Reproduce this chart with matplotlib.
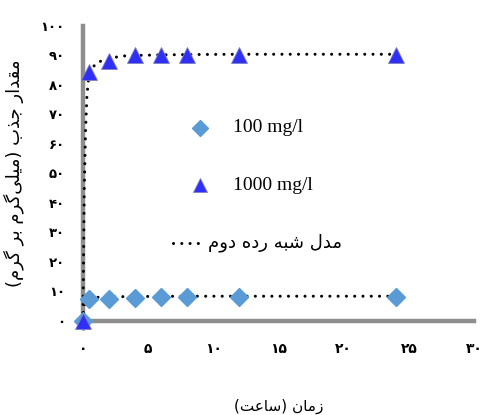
import matplotlib
matplotlib.use("Agg")
import matplotlib.pyplot as plt
from matplotlib.lines import Line2D

# ---------------- data ----------------
time = [0, 0.5, 2, 4, 6, 8, 12, 24]
q100 = [0, 7.5, 7.6, 7.8, 8.0, 8.0, 8.1, 8.2]
q1000 = [0, 84.5, 88.0, 90.0, 90.2, 90.2, 90.3, 90.3]

model_t1000 = [0, 0.02, 0.05, 0.1, 0.2, 0.3, 0.4, 0.5, 1, 2, 3, 4, 6, 8, 12, 24]
model_q1000 = [0, 10, 25, 45, 65, 76, 81, 84, 87.5, 89, 89.8, 90, 90.2, 90.3, 90.4, 90.4]
model_t100 = [0, 0.05, 0.1, 0.2, 0.5, 1, 2, 4, 8, 12, 24]
model_q100 = [0, 3, 5, 6.5, 7.6, 8.0, 8.2, 8.3, 8.4, 8.4, 8.4]

x_ticks = [0, 5, 10, 15, 20, 25, 30]
y_ticks = [0, 10, 20, 30, 40, 50, 60, 70, 80, 90, 100]

label_100 = "100 mg/l"
label_1000 = "1000 mg/l"
label_model = "مدل شبه رده دوم"
x_label = "زمان (ساعت)"
y_label = "مقدار جذب (میلی\u200cگرم بر گرم)"

# ---------------- minimal Persian shaping ----------------
FORMS = {  # isolated, final, initial, medial
    'ا': ('\uFE8D', '\uFE8E', None, None),
    'ب': ('\uFE8F', '\uFE90', '\uFE91', '\uFE92'),
    'ت': ('\uFE95', '\uFE96', '\uFE97', '\uFE98'),
    'ج': ('\uFE9D', '\uFE9E', '\uFE9F', '\uFEA0'),
    'د': ('\uFEA9', '\uFEAA', None, None),
    'ذ': ('\uFEAB', '\uFEAC', None, None),
    'ر': ('\uFEAD', '\uFEAE', None, None),
    'ز': ('\uFEAF', '\uFEB0', None, None),
    'س': ('\uFEB1', '\uFEB2', '\uFEB3', '\uFEB4'),
    'ش': ('\uFEB5', '\uFEB6', '\uFEB7', '\uFEB8'),
    'ع': ('\uFEC9', '\uFECA', '\uFECB', '\uFECC'),
    'ق': ('\uFED5', '\uFED6', '\uFED7', '\uFED8'),
    'ل': ('\uFEDD', '\uFEDE', '\uFEDF', '\uFEE0'),
    'م': ('\uFEE1', '\uFEE2', '\uFEE3', '\uFEE4'),
    'ن': ('\uFEE5', '\uFEE6', '\uFEE7', '\uFEE8'),
    'ه': ('\uFEE9', '\uFEEA', '\uFEEB', '\uFEEC'),
    'و': ('\uFEED', '\uFEEE', None, None),
    'ی': ('\uFBFC', '\uFBFD', '\uFBFE', '\uFBFF'),
    'گ': ('\uFB92', '\uFB93', '\uFB94', '\uFB95'),
}
MIRROR = {'(': ')', ')': '('}


def shape(s):
    out = []
    n = len(s)
    for i, c in enumerate(s):
        if c == '\u200c':
            continue
        if c not in FORMS:
            out.append(MIRROR.get(c, c))
            continue
        prev = s[i - 1] if i > 0 else None
        nxt = s[i + 1] if i + 1 < n else None
        join_prev = prev in FORMS and FORMS[prev][2] is not None
        iso, fin, ini, med = FORMS[c]
        join_next = nxt in FORMS and ini is not None
        if join_prev and join_next:
            g = med
        elif join_prev:
            g = fin
        elif join_next:
            g = ini
        else:
            g = iso
        out.append(g)
    return ''.join(reversed(out))


def fa_digits(v):
    return str(v).translate(str.maketrans('0123456789', '۰۱۲۳۴۵۶۷۸۹'))


# ---------------- figure ----------------
plt.rcParams['font.family'] = ['DejaVu Sans']
fig = plt.figure(figsize=(4.83, 4.15), dpi=100)
ax = fig.add_axes([0.1718, 0.2265, 0.8095, 0.711])

tri_color = '#2f2ff5'
dia_color = '#5b9bd5'
dot_style = dict(color='black', lw=2.2, linestyle=(0, (0.01, 2.7)),
                 dash_capstyle='round', zorder=3, clip_on=False)

ax.plot(model_t1000, model_q1000, **dot_style)
ax.plot(model_t100, model_q100, **dot_style)

ax.plot(time, q100, linestyle='none', marker='D', markersize=9.5,
        markerfacecolor=dia_color, markeredgecolor=dia_color, zorder=4, clip_on=False)
ax.plot(time, q1000, linestyle='none', marker='^', markersize=12,
        markerfacecolor=tri_color, markeredgecolor='#8080c0', markeredgewidth=0.6,
        zorder=5, clip_on=False)

ax.set_xlim(0, 30)
ax.set_ylim(0, 100)
ax.set_xticks(x_ticks)
ax.set_xticklabels([fa_digits(v) for v in x_ticks])
ax.set_yticks(y_ticks)
ax.set_yticklabels([fa_digits(v) for v in y_ticks])
ax.tick_params(axis='x', length=0, pad=15, labelsize=10)
ax.tick_params(axis='y', length=0, pad=13, labelsize=9.5)
for lab in ax.get_xticklabels() + ax.get_yticklabels():
    lab.set_fontweight('bold')

for side in ('top', 'right'):
    ax.spines[side].set_visible(False)
for side in ('left', 'bottom'):
    ax.spines[side].set_color('#8e8e8e')
    ax.spines[side].set_linewidth(3.2)
    ax.spines[side].set_zorder(2)

ax.set_xlabel(shape(x_label), fontsize=11, va='center')
ax.xaxis.set_label_coords(0.5, -0.29)
ax.set_ylabel(shape(y_label), fontsize=13, va='center')
ax.yaxis.set_label_coords(-0.178, 0.5)

# ---------------- manual legend ----------------
fig.add_artist(Line2D([0.414], [0.692], transform=fig.transFigure, linestyle='none',
                      marker='D', markersize=8, markerfacecolor=dia_color,
                      markeredgecolor=dia_color))
fig.add_artist(Line2D([0.414], [0.554], transform=fig.transFigure, linestyle='none',
                      marker='^', markersize=10, markerfacecolor=tri_color,
                      markeredgecolor='#8080c0', markeredgewidth=0.6))
fig.add_artist(Line2D([0.358, 0.424], [0.414, 0.414], transform=fig.transFigure,
                      **{k: v for k, v in dot_style.items() if k not in ('zorder', 'clip_on')}))
fig.text(0.482, 0.692, label_100, family='Liberation Serif', fontsize=14, va='center')
fig.text(0.482, 0.554, label_1000, family='Liberation Serif', fontsize=14, va='center')
fig.text(0.431, 0.414, shape(label_model), fontsize=13, va='center')

fig.savefig('out.png', dpi=100)
